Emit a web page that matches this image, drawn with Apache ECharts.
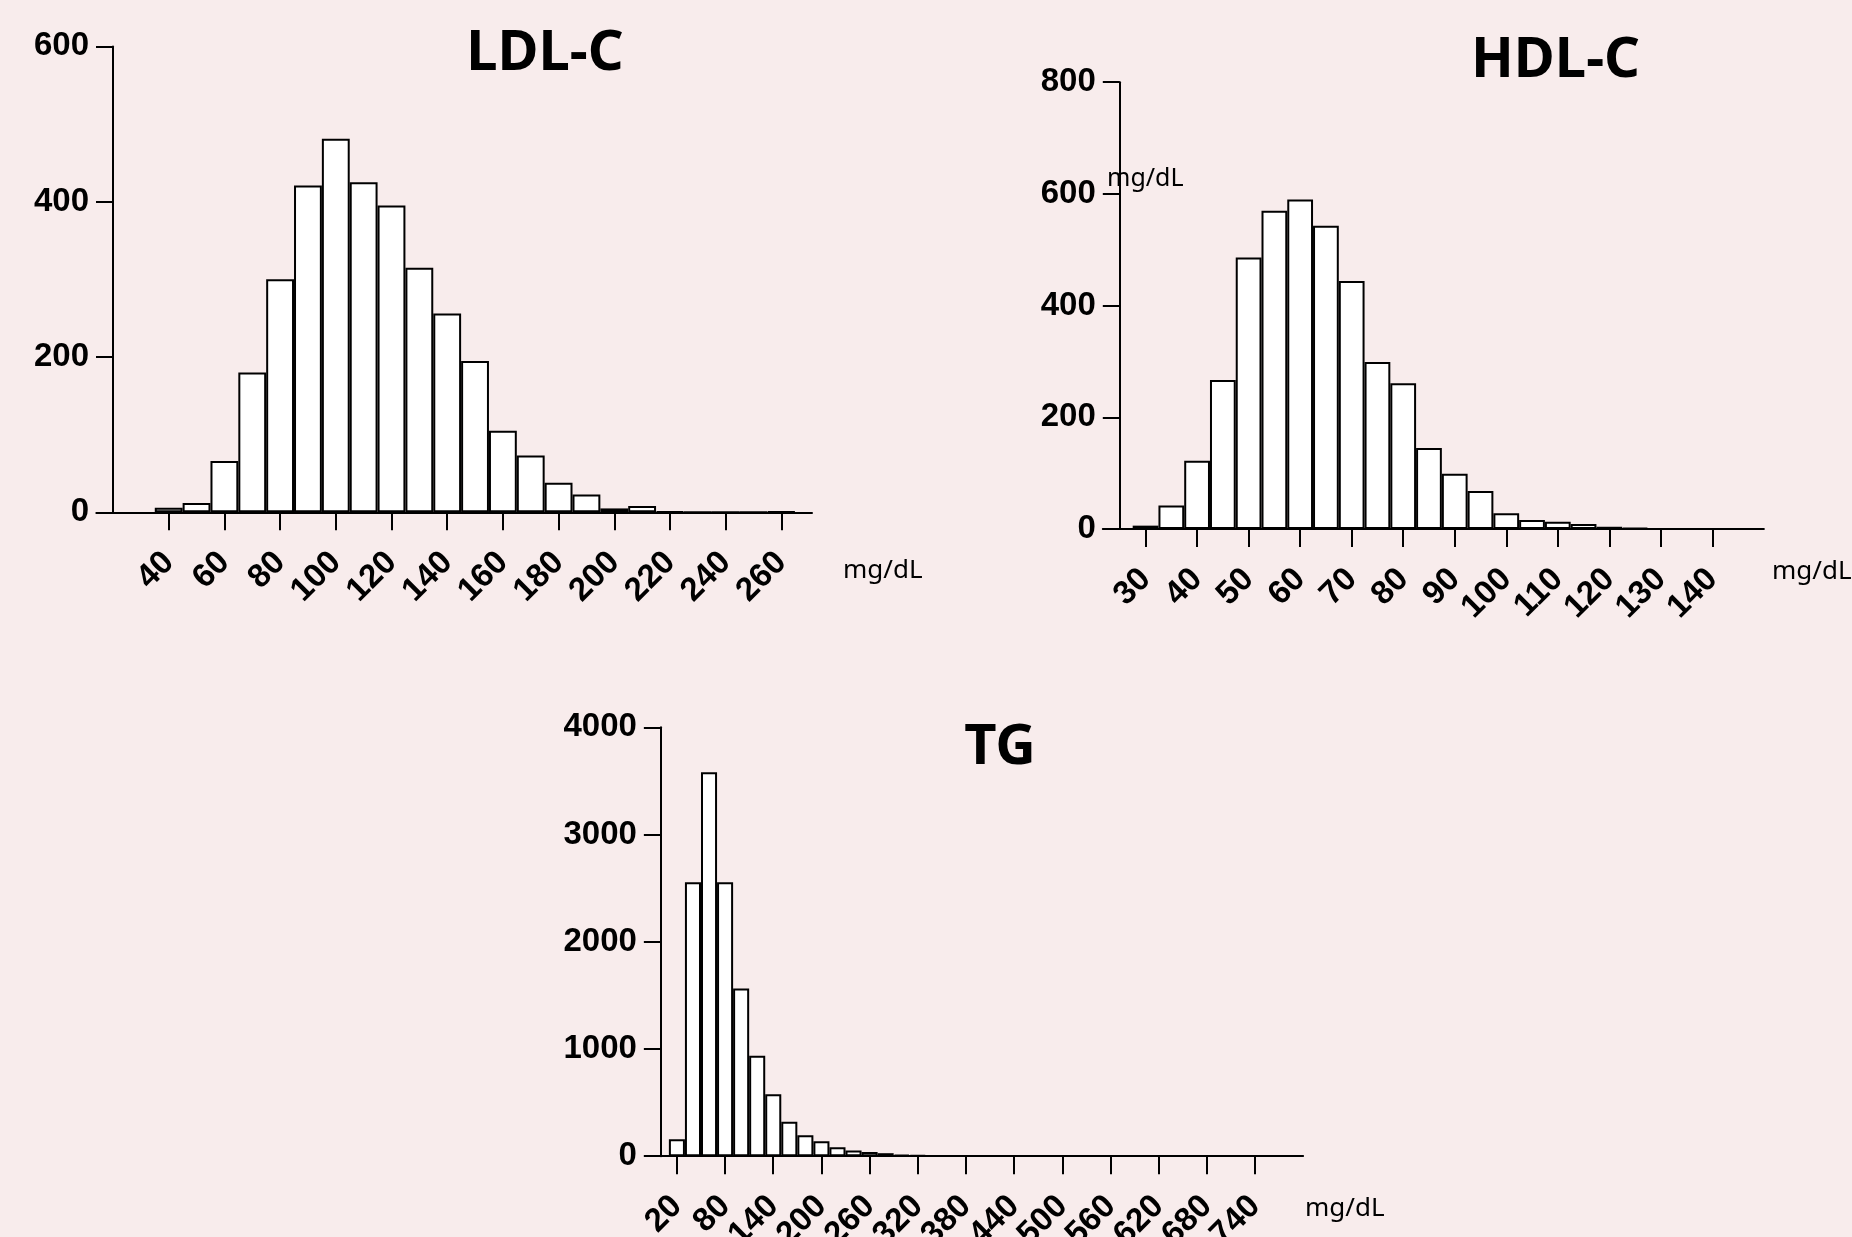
<!DOCTYPE html>
<html><head><meta charset="utf-8">
<script src="https://cdn.jsdelivr.net/npm/echarts@6/dist/echarts.min.js"></script>
<style>html,body{margin:0;padding:0;background:#F8ECEC;} #c{width:1852px;height:1237px;}</style>
</head><body><div id="c"></div>
<script>
// ---- data (bin centers, counts, tick labels) ----
const ldlBins = [40,50,60,70,80,90,100,110,120,130,140,150,160,170,180,190,200,210,220,230,240,250,260];
const ldlCounts = [6,12,66,180,300,421,481,425,395,315,256,195,105,73,38,23,5,8,1,0,0,0,1];
const ldlTicks = [40,60,80,100,120,140,160,180,200,220,240,260];

const hdlBins = [30,35,40,45,50,55,60,65,70,75,80,85,90,95,100,105,110,115,120,125];
const hdlCounts = [6,42,122,267,486,570,590,543,444,299,261,145,99,68,28,16,13,9,4,2];
const hdlTicks = [30,40,50,60,70,80,90,100,110,120,130,140];

const tgBins = [20,40,60,80,100,120,140,160,180,200,220,240,260,280,300,320];
const tgCounts = [158,2555,3580,2555,1565,937,578,322,196,140,84,52,40,28,14,10];
const tgTicks = [20,80,140,200,260,320,380,440,500,560,620,680,740];

const titles = ['LDL-C','HDL-C','TG'];
const unitText = 'mg/dL';

// ---- layout ----
const panels = [
  {bins: ldlBins, counts: ldlCounts, ticks: ldlTicks, grid:{left:96.3, top:46.4, width:715.7, height:465.9},
   xMin:14, xMax:271, yLine:20, yMax:600, yInt:200},
  {bins: hdlBins, counts: hdlCounts, ticks: hdlTicks, grid:{left:1102.8, top:82.2, width:661.1, height:446.8},
   xMin:21.7, xMax:150, yLine:25, yMax:800, yInt:200},
  {bins: tgBins, counts: tgCounts, ticks: tgTicks, grid:{left:644.8, top:727.3, width:658.3, height:428.9},
   xMin:-20, xMax:800, yLine:0, yMax:4000, yInt:1000}
];

const labelFont = {fontFamily:'Liberation Sans, Arial, sans-serif', fontWeight:'bold', fontSize:33, color:'#000'};
const lineBlack = {color:'#000', width:2};
const plain = v => String(v);

const grid = [], xAxis = [], yAxis = [], series = [];
panels.forEach((p, i) => {
  grid.push(Object.assign({outerBoundsMode:'none', containLabel:false}, p.grid));
  xAxis.push({
    type:'value', gridIndex:i, min:p.xMin, max:p.xMax,
    axisLine:{show:true, onZero:false, lineStyle:lineBlack},
    axisTick:{show:true, customValues:p.ticks, length:18, lineStyle:lineBlack},
    axisLabel:Object.assign({show:true, customValues:p.ticks, rotate:45, margin:45, formatter:plain}, labelFont),
    splitLine:{show:false}
  });
  const off = -(p.yLine - p.xMin) / (p.xMax - p.xMin) * p.grid.width;
  yAxis.push({
    type:'value', gridIndex:i, min:0, max:p.yMax, interval:p.yInt, offset:off,
    axisLine:{show:true, lineStyle:lineBlack},
    axisTick:{show:true, length:17, lineStyle:lineBlack},
    axisLabel:Object.assign({show:true, margin:24, formatter:plain, padding:[7,0,0,0]}, labelFont),
    splitLine:{show:false}
  });
  series.push({
    type:'bar', xAxisIndex:i, yAxisIndex:i, barWidth:'100%',
    data:p.bins.map((b, k) => [b, p.counts[k]]),
    itemStyle:{color:'#ffffff', borderColor:'#000', borderWidth:2},
    silent:true
  });
});

const titleFont = 'bold 56px "Noto Sans", sans-serif';
const unitFont = '26px "Noto Sans", sans-serif';
const graphic = [
  {type:'text', x:545, y:54, style:{text:titles[0], font:titleFont, fill:'#000', align:'center', verticalAlign:'middle'}},
  {type:'text', x:1555.5, y:61, style:{text:titles[1], font:titleFont, fill:'#000', align:'center', verticalAlign:'middle'}},
  {type:'text', x:1000, y:748, style:{text:titles[2], font:titleFont, fill:'#000', align:'center', verticalAlign:'middle'}},
  {type:'text', x:843, y:571, style:{text:unitText, font:unitFont, fill:'#000', align:'left', verticalAlign:'middle'}},
  {type:'text', x:1772, y:572, style:{text:unitText, font:unitFont, fill:'#000', align:'left', verticalAlign:'middle'}},
  {type:'text', x:1107, y:179, style:{text:unitText, font:'25px "Noto Sans", sans-serif', fill:'#000', align:'left', verticalAlign:'middle'}},
  {type:'text', x:1305, y:1209, style:{text:unitText, font:unitFont, fill:'#000', align:'left', verticalAlign:'middle'}}
];

const chart = echarts.init(document.getElementById('c'), null, {renderer:'canvas'});
chart.setOption({
  backgroundColor:'#F8ECEC',
  animation:false,
  grid, xAxis, yAxis, series, graphic
});
</script>
</body></html>
